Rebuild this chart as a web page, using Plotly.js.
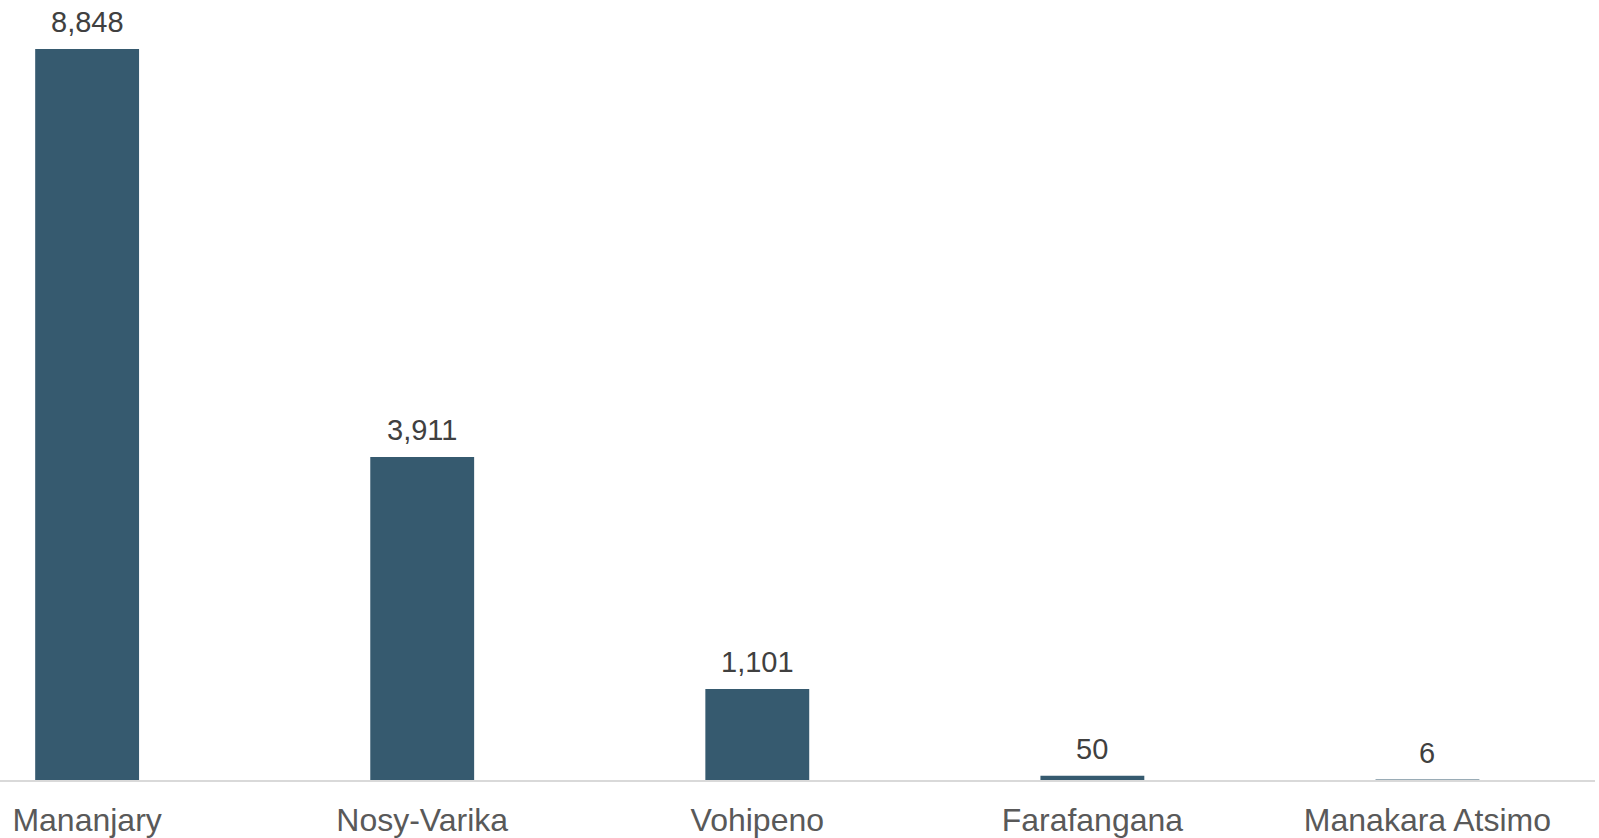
<!DOCTYPE html>
<html>
<head>
<meta charset="utf-8">
<script src="https://cdn.plot.ly/plotly-3.0.1.min.js"></script>
<style>html,body{margin:0;padding:0;background:#fff;}#chart{width:1599px;height:838px;}</style>
</head>
<body>
<div id="chart"></div>
<script>
const categories = ["Mananjary", "Nosy-Varika", "Vohipeno", "Farafangana", "Manakara Atsimo"];
const values = [8848, 3911, 1101, 50, 6];
const valueLabels = ["8,848", "3,911", "1,101", "50", "6"];

const barColor = "#365a6f";

const trace = {
  type: "bar",
  x: categories,
  y: values,
  marker: {color: barColor},
  width: 0.31,
  hoverinfo: "x+y"
};

const annotations = categories.map((c, i) => ({
  x: c, y: values[i], xref: "x", yref: "y",
  text: valueLabels[i], showarrow: false,
  yanchor: "bottom", yshift: 9,
  font: {family: "Liberation Sans, Arial, sans-serif", size: 29, color: "#404040"}
}));

const layout = {
  width: 1599, height: 838,
  margin: {l: 0, r: 4, t: 0, b: 58},
  paper_bgcolor: "#ffffff", plot_bgcolor: "#ffffff",
  showlegend: false,
  xaxis: {
    type: "category",
    range: [-0.26, 4.5],
    showline: true, linecolor: "#d9d9d9", linewidth: 2,
    ticks: "", showgrid: false, zeroline: false,
    ticklabelstandoff: 11,
    tickfont: {family: "Liberation Sans, Arial, sans-serif", size: 32, color: "#595959"}
  },
  yaxis: {
    range: [0, 9441],
    visible: false, showgrid: false, zeroline: false
  },
  annotations: annotations
};

Plotly.newPlot("chart", [trace], layout, {displayModeBar: false, staticPlot: true});
</script>
</body>
</html>
